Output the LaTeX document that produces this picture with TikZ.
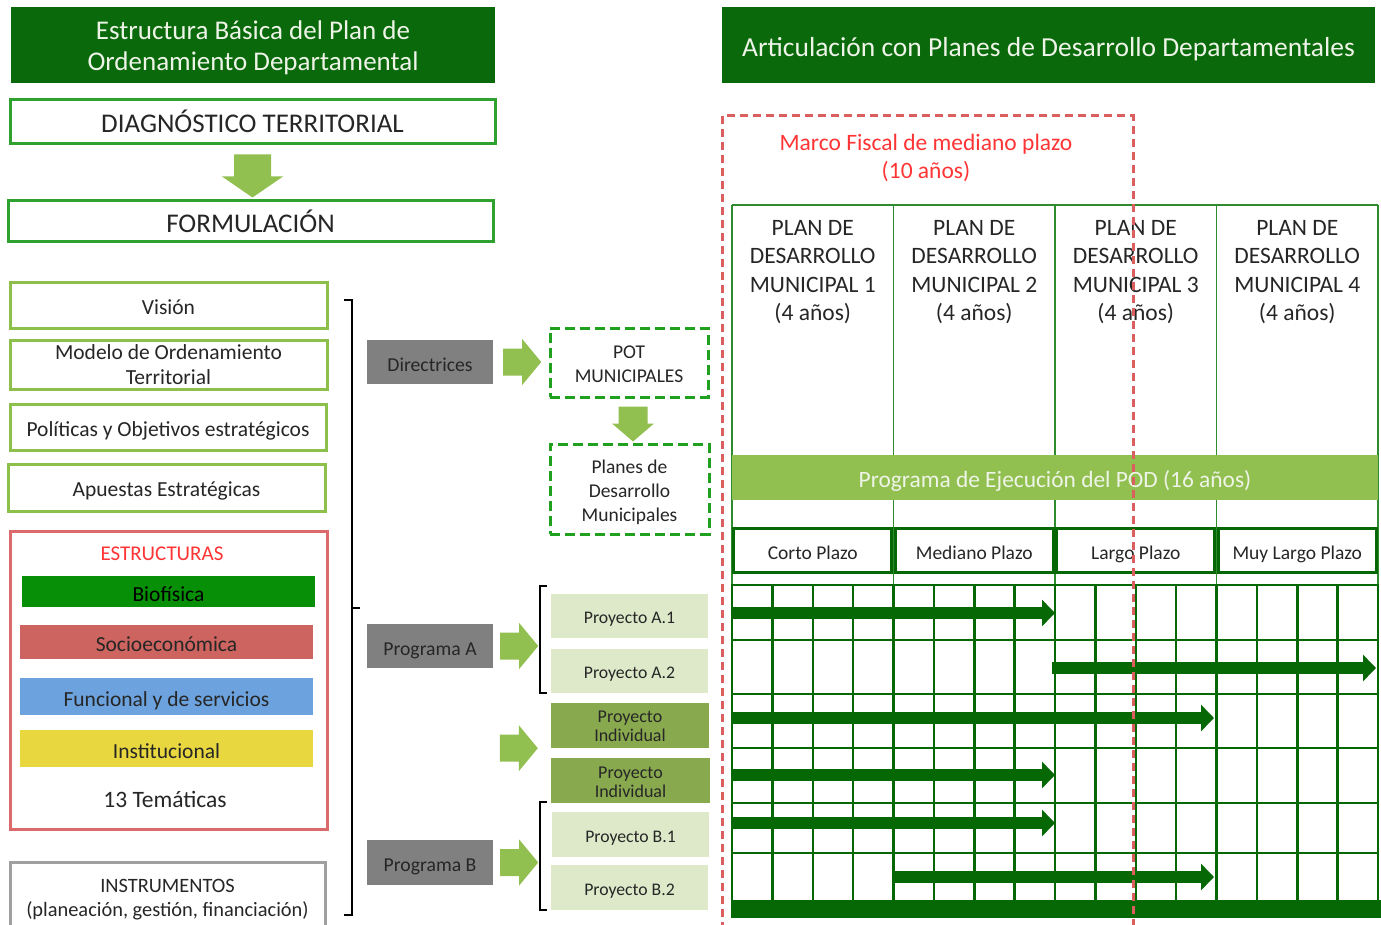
\documentclass[tikz,border=0pt]{standalone}
\usepackage{fontspec}
\setmainfont{Carlito}
\usetikzlibrary{calc,arrows.meta}

\definecolor{hdrgreen}{HTML}{0A690A}
\definecolor{hdrtext}{HTML}{EEF4E8}
\definecolor{stagegreen}{HTML}{2FA12F}
\definecolor{softgreen}{HTML}{8CC04A}
\definecolor{arrowgreen}{HTML}{92C050}
\definecolor{structred}{HTML}{DB6A6A}
\definecolor{titlered}{HTML}{FF3535}
\definecolor{biofill}{HTML}{078F07}
\definecolor{sociofill}{HTML}{CD645F}
\definecolor{funcfill}{HTML}{6CA2DD}
\definecolor{instfill}{HTML}{E8D73E}
\definecolor{midgray}{HTML}{808080}
\definecolor{boxgray}{HTML}{A0A0A0}
\definecolor{txtgray}{HTML}{262626}
\definecolor{dashgreen}{HTML}{1FA01F}
\definecolor{projlight}{HTML}{DEE9CA}
\definecolor{projdark}{HTML}{89A94E}
\definecolor{griddark}{HTML}{056805}
\definecolor{planline}{HTML}{2E8B2E}
\definecolor{fiscalred}{HTML}{DC5F5F}

\newcommand{\fsz}[2]{\fontsize{#1}{#2}\selectfont}

\tikzset{
  every node/.style={inner sep=0pt, text=txtgray},
  % single-line labels sit slightly below the box centre
  sline/.style={text height=#1, text depth=0pt},
  sline/.default=18pt,
  hdr/.style={fill=hdrgreen, text=hdrtext},
  stagebox/.style={draw=stagegreen, line width=3pt, fill=white, font=\fsz{27}{31}, sline=21.5pt},
  leftbox/.style={draw=softgreen, line width=3pt, fill=white, font=\fsz{21.5}{25}},
  structbar/.style={sline=19pt, font=\fsz{21.5}{25}, minimum width=293pt},
  graybox/.style={sline=18pt, fill=midgray, text=txtgray, font=\fsz{19.7}{23}, minimum width=126pt},
  dashbox/.style={draw=dashgreen, line width=3pt, dash pattern=on 10pt off 5pt},
  projlt/.style={sline=15pt, fill=projlight, font=\fsz{17.7}{21}, minimum width=157pt, minimum height=44pt},
  projdk/.style={fill=projdark, minimum width=158pt, minimum height=45pt},
  bracketline/.style={draw=black, line width=2.5pt},
  termbox/.style={sline=17pt, draw=griddark, line width=3pt, font=\fsz{19.5}{23}, minimum width=158pt, minimum height=44pt},
  plantext/.style={align=center, font=\fsz{23.5}{28.3}, anchor=base},
  gridline/.style={draw=griddark, line width=2.5pt},
  barrow/.style={draw=griddark, line width=12pt, -{Triangle[length=13pt,width=26pt]}},
  rblock/.pic={\fill[arrowgreen] (0,-13.5) -- (19,-13.5) -- (19,-23) -- (38,0) -- (19,23) -- (19,13.5) -- (0,13.5) -- cycle;},
  downbig/.pic={\fill[arrowgreen] (-18.5,0) -- (18.5,0) -- (18.5,22) -- (30.5,22) -- (0,43) -- (-30.5,22) -- (-18.5,22) -- cycle;},
  downsmall/.pic={\fill[arrowgreen] (-14.5,0) -- (14.5,0) -- (14.5,17) -- (21,17) -- (0,35) -- (-21,17) -- (-14.5,17) -- cycle;},
}

\begin{document}
\begin{tikzpicture}[x=1pt, y=-1pt]
\useasboundingbox[fill=white] (0,0) rectangle (1381,925);

% ---------- left column: structure of the plan ----------
% (multi-line labels are placed by the baseline of their last line)
\node[hdr, minimum width=484pt, minimum height=76pt] (hdrL) at (253,45) {};
\node[anchor=base, align=center, text=hdrtext, font=\fsz{27}{31}] (hdrLtxt) at (253,71)
  {Estructura Básica del Plan de\\Ordenamiento Departamental};
\node[stagebox, minimum width=485pt, minimum height=44pt] (diag) at (252.5,122) {DIAGNÓSTICO TERRITORIAL};
\node[stagebox, minimum width=485pt, minimum height=41pt] (form) at (250.5,221.5) {FORMULACIÓN};
\pic at ($(diag.south)+(0,9)$) {downbig};

\node[leftbox, sline=18.5pt, minimum width=317pt, minimum height=45pt] (vision) at (168.5,305.5) {Visión};
\node[leftbox, minimum width=317pt, minimum height=49pt] (modelo) at (168.5,364.5) {};
\node[anchor=base, align=center, font=\fsz{21.5}{25}] (modelotxt) at (168.5,384.5) {Modelo de Ordenamiento\\Territorial};
\node[leftbox, sline=18.5pt, minimum width=316pt, minimum height=46pt] (politicas) at (168,427) {Políticas y Objetivos estratégicos};
\node[leftbox, sline=18.5pt, minimum width=317pt, minimum height=47pt] (apuestas) at (166.5,487.5) {Apuestas Estratégicas};

\node[draw=structred, line width=3pt, minimum width=317pt, minimum height=298pt] (estr) at (168.5,680) {};
\node[anchor=base, text=titlered, font=\fsz{21}{25}] (estrtitle) at (162,560) {ESTRUCTURAS};
\node[structbar, fill=biofill, text=black, minimum height=31pt] (bio) at (168.5,591.5) {Biofísica};
\node[structbar, fill=sociofill, minimum height=34pt] (socio) at (166.5,642) {Socioeconómica};
\node[structbar, fill=funcfill, minimum height=37pt] (func) at (166.5,696.5) {Funcional y de servicios};
\node[structbar, fill=instfill, minimum height=37pt] (inst) at (166.5,748.5) {Institucional};
\node[anchor=base, font=\fsz{23.5}{28}] (tematicas) at (165,807) {13 Temáticas};

\node[draw=boxgray, line width=3pt, minimum width=315pt, minimum height=90pt, anchor=north] (instr) at (167.5,861) {};
\node[anchor=base, align=center, font=\fsz{20.4}{24}] (instrtxt) at (167.5,916.5) {INSTRUMENTOS\\(planeación, gestión, financiación)};

% large bracket grouping the formulation components
\draw[bracketline] (344,300) -- (352,300) -- (352,915) -- (344,915);
\draw[bracketline] (352,608) -- (360,608);

% ---------- middle column: instruments and projects ----------
\node[graybox, minimum height=44pt] (dir) at (430,362) {Directrices};
\node[dashbox, minimum width=158pt, minimum height=69pt] (pot) at (629,362.5) {};
\node[anchor=base, align=center, font=\fsz{19.5}{24}] (pottxt) at (629,382) {POT\\MUNICIPALES};
\node[dashbox, minimum width=159pt, minimum height=90pt] (pdm) at (629.5,489) {};
\node[anchor=base, align=center, font=\fsz{19.5}{24}] (pdmtxt) at (629.5,521) {Planes de\\Desarrollo\\Municipales};
\pic at ($(dir.east)+(10,0)$) {rblock};
\pic at ($(pot.south)+(4,8)$) {downsmall};

\node[graybox, minimum height=44pt] (progA) at (430,646) {Programa A};
\node[projlt] (pA1) at (629.5,616) {Proyecto A.1};
\node[projlt] (pA2) at (629.5,671) {Proyecto A.2};
\node[projdk] (ind1) at (630,725.5) {};
\node[anchor=base, align=center, font=\fsz{18}{19}] (ind1txt) at (630,741.5) {Proyecto\\Individual};
\node[projdk, minimum width=159pt] (ind2) at (630.5,780.5) {};
\node[anchor=base, align=center, font=\fsz{18}{19}] (ind2txt) at (630.5,797.5) {Proyecto\\Individual};
\node[projlt, minimum height=45pt] (pB1) at (630.5,834.5) {Proyecto B.1};
\node[projlt, minimum height=45pt] (pB2) at (629.5,887.5) {Proyecto B.2};
\node[graybox, minimum height=45pt] (progB) at (430,862.5) {Programa B};

\pic at ($(progA.east)+(7,0)$) {rblock};
\pic at ($(ind1.south west)+(-51,0)$) {rblock};
\pic at ($(progB.east)+(7,0)$) {rblock};

\draw[bracketline] ($(pA1.north west)+(-4,-8)$) -| ($(pA1.north west)+(-11,0)$) |- ($(pA2.south west)+(-4,0)$);
\draw[bracketline] ($(pB1.north west)+(-5,-10)$) -| ($(pB1.north west)+(-12,0)$) |- ($(pB2.south west)+(-4,0)$);

% ---------- right column: articulation with development plans ----------
\node[hdr, minimum width=653pt, minimum height=76pt, font=\fsz{27.5}{31}, sline=23pt] (hdrR) at (1048.5,45)
  {Articulación con Planes de Desarrollo Departamentales};

% municipal plan columns
\draw[planline, line width=1.5pt] (732,205) -- (1378,205);
\foreach \x in {732,893.5,1055,1216.5,1378}
  \draw[planline, line width=1.5pt] (\x,205) -- (\x,585);
\node[plantext] (pm1) at (812.75,320.5) {PLAN DE\\DESARROLLO\\MUNICIPAL 1\\(4 años)};
\node[plantext] (pm2) at (974.25,320.5) {PLAN DE\\DESARROLLO\\MUNICIPAL 2\\(4 años)};
\node[plantext] (pm3) at (1135.75,320.5) {PLAN DE\\DESARROLLO\\MUNICIPAL 3\\(4 años)};
\node[plantext] (pm4) at (1297.25,320.5) {PLAN DE\\DESARROLLO\\MUNICIPAL 4\\(4 años)};

\node[sline=19pt, fill=arrowgreen, text=hdrtext, font=\fsz{23.4}{28}, minimum width=646pt, minimum height=45pt] (pod) at (1055,477.5)
  {Programa de Ejecución del POD (16 años)};

% planning horizons
\node[termbox] (t1) at (812.75,550.5) {Corto Plazo};
\node[termbox] (t2) at (974.25,550.5) {Mediano Plazo};
\node[termbox] (t3) at (1135.75,550.5) {Largo Plazo};
\node[termbox] (t4) at (1297.25,550.5) {Muy Largo Plazo};

% yearly grid
\foreach \i in {0,...,16}
  \draw[gridline] ({732+\i*40.375},585) -- ({732+\i*40.375},900);
\foreach \y in {585,640,694,748,803,853}
  \draw[gridline] (730.75,\y) -- (1379.25,\y);

% execution periods
\draw[barrow] (732,613) -- (1055,613);
\draw[barrow] (1052,668) -- (1376,668);
\draw[barrow] (732,718) -- (1214,718);
\draw[barrow] (732,775) -- (1055,775);
\draw[barrow] (732,823) -- (1055,823);
\draw[barrow] (893,877) -- (1214,877);
\fill[griddark] (731,900) rectangle (1381,918);

% medium-term fiscal framework
\draw[fiscalred, line width=3pt, dash pattern=on 8pt off 5pt] (722,930) -- (722,116) -- (1133,116) -- (1133,930);
\node[anchor=base, text=titlered, align=center, font=\fsz{23.5}{28}] (fiscal) at (926,178.5) {Marco Fiscal de mediano plazo\\(10 años)};

\end{tikzpicture}
\end{document}
